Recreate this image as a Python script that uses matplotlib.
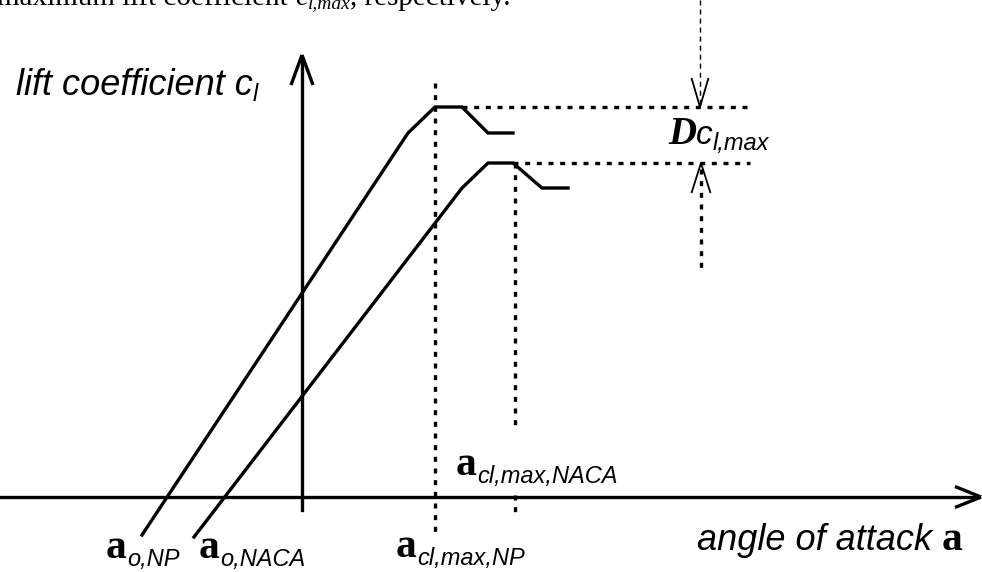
import matplotlib
matplotlib.use("Agg")
import matplotlib.pyplot as plt

# schematic curves, in picture units (x to the right, y downwards)
np_alpha = [142, 408, 435, 462, 488, 513]
np_cl = [535, 133, 107, 107, 133, 133]
naca_alpha = [194, 462, 488, 513, 542, 568]
naca_cl = [537, 188, 163, 163, 188, 188]

alpha_clmax_np = 435
alpha_clmax_naca = 515
clmax_np = 107
clmax_naca = 163
delta_x = 700

W, H = 982, 572
fig = plt.figure(figsize=(W / 100, H / 100), dpi=100)
ax = fig.add_axes([0, 0, 1, 1])
ax.set_xlim(0, W)
ax.set_ylim(H, 0)
ax.axis('off')
renderer = fig.canvas.get_renderer()

SANS = 'Liberation Sans'
SERIF = 'Liberation Serif'
LW = 2.4
dotted = (0, (1.5, 2.0))


def head(tip, direction, length, half, lw):
    # open arrow head made of two strokes
    x, y = tip
    dx, dy = direction
    px, py = -dy, dx
    for s in (1, -1):
        ax.plot([x - dx * length + s * px * half, x], [y - dy * length + s * py * half, y],
                color='black', lw=lw, solid_capstyle='butt')


def run(x, y, pieces):
    # draw text pieces one after another on a common baseline
    for s, size, dy, fam, style, weight in pieces:
        t = ax.text(x, y + dy, s, fontsize=size, family=fam, style=style,
                    weight=weight, ha='left', va='baseline')
        x += t.get_window_extent(renderer).width


# axes
ax.plot([0, 978], [497, 497], color='black', lw=LW)
head((981, 497), (1, 0), 26, 10.5, LW)
ax.plot([302, 302], [510, 58], color='black', lw=LW)
head((302, 55), (0, -1), 30, 11, LW)

# lift curves
ax.plot(np_alpha, np_cl, color='black', lw=LW, solid_joinstyle='miter')
ax.plot(naca_alpha, naca_cl, color='black', lw=LW, solid_joinstyle='miter')

# helper lines
ax.plot([alpha_clmax_np, alpha_clmax_np], [83, 535], color='black', lw=LW, ls=dotted)
ax.plot([alpha_clmax_naca, alpha_clmax_naca], [clmax_naca, 425], color='black', lw=LW, ls=dotted)
ax.plot([alpha_clmax_naca, alpha_clmax_naca], [495, 512], color='black', lw=LW, ls=dotted)
ax.plot([462, 749], [clmax_np, clmax_np], color='black', lw=LW, ls=dotted)
ax.plot([513, 750], [clmax_naca, clmax_naca], color='black', lw=LW, ls=dotted)
ax.plot([delta_x, delta_x], [0, clmax_np], color='black', lw=1.0, ls=(0, (3.6, 2.9)))
head((delta_x, clmax_np), (0, 1), 29, 8.5, 1.3)
ax.plot([delta_x + 1, delta_x + 1], [clmax_naca + 6, 273], color='black', lw=LW, ls=dotted)
head((delta_x + 1, clmax_naca), (0, -1), 30, 9.5, 1.3)

# labels
run(16, 95, [("lift coefficient c", 26, 0, SANS, 'italic', 'normal'),
             ("l", 17, 6, SANS, 'italic', 'normal')])
run(697, 550, [("angle of attack ", 26, 0, SANS, 'italic', 'normal'),
               ("a", 30, 0, SERIF, 'normal', 'bold')])
run(668, 144, [("D", 28, 0, SERIF, 'italic', 'bold'),
               ("c", 24, 0, SANS, 'italic', 'normal'),
               ("l,max", 17, 6, SANS, 'italic', 'normal')])
for x, y, sub in [(106, 558, "o,NP"), (199, 558, "o,NACA"),
                  (396, 557, "cl,max,NP"), (456, 475, "cl,max,NACA")]:
    run(x, y, [("a", 30, 0, SERIF, 'normal', 'bold'),
               (sub, 17, 8, SANS, 'italic', 'normal')])

# clipped line of the surrounding text
run(-3, 5, [("maximum lift coefficient ", 21, 0, SERIF, 'normal', 'normal'),
            ("c", 21, 0, SERIF, 'italic', 'normal'),
            ("l,max", 14, 3, SERIF, 'italic', 'normal'),
            (", respectively.", 21, 0, SERIF, 'normal', 'normal')])

fig.savefig('out.png', dpi=100)
